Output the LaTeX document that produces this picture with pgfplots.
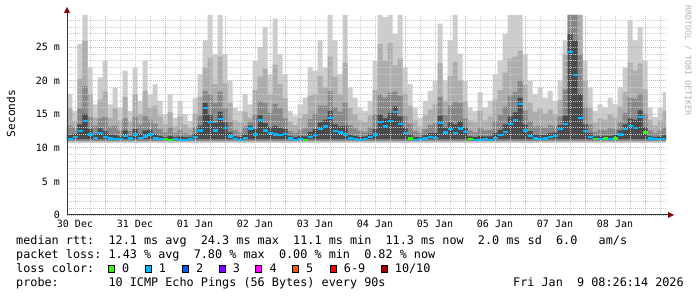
\documentclass[border=0pt]{standalone}
\usepackage{fontspec}
\setmainfont{DejaVu Sans}
\setmonofont{DejaVu Sans Mono}
\usepackage{pgfplots}
\pgfplotsset{compat=1.18}
\usepackage{pgfplotstable}
\definecolor{sone}{HTML}{CDCDCD}
\definecolor{stwo}{HTML}{ADADAD}
\definecolor{sthree}{HTML}{888888}
\definecolor{sfour}{HTML}{4A4A4A}
\definecolor{lzero}{HTML}{26FF00}
\definecolor{lone}{HTML}{00B8FF}
\definecolor{ltwo}{HTML}{0059FF}
\definecolor{lthree}{HTML}{7E00FF}
\definecolor{lfour}{HTML}{FF00FF}
\definecolor{lfive}{HTML}{FF5500}
\definecolor{lsix}{HTML}{FF0000}
\definecolor{lten}{HTML}{A00000}
\definecolor{mgrid}{HTML}{EBA0A0}
\definecolor{ngrid}{HTML}{CBCBCB}
\definecolor{axcol}{HTML}{2C3D33}
\definecolor{arrcol}{HTML}{7F0000}
\pgfplotstableread{
k a b c d
3 10.75 10.9 11.0 11.3
4 17.5 15.0 12.9 11.7
5 18.0 15.9 13.3 11.9
6 15.5 14.0 13.0 12.1
7 25.5 20.3 15.9 13.5
8 29.8 26.0 19.2 15.1
9 22.0 18.0 14.6 12.8
10 16.5 14.5 13.3 12.1
11 20.5 17.2 14.4 12.9
12 23.0 18.4 14.6 12.5
13 16.5 14.5 13.2 12.0
14 19.0 15.9 13.3 11.9
15 16.0 14.1 12.6 11.7
16 21.5 17.6 14.4 12.6
17 15.5 13.9 12.5 11.8
18 22.0 18.0 14.6 12.8
19 17.0 15.0 13.5 12.1
20 23.0 18.5 14.7 12.6
21 18.0 16.0 14.2 12.7
22 19.5 16.3 13.6 12.0
23 17.0 14.7 12.8 11.8
24 15.0 13.5 12.3 11.6
25 18.0 15.3 13.0 11.8
26 14.5 13.2 12.2 11.6
27 17.0 14.7 12.7 11.7
28 15.0 13.5 12.2 11.6
29 14.0 12.9 12.0 11.6
30 17.5 15.1 13.1 12.1
31 21.0 17.6 14.8 13.3
32 26.0 22.0 18.5 16.7
33 29.8 23.4 18.0 15.0
34 24.0 19.5 16.7 13.7
35 29.8 23.6 18.4 15.4
36 24.0 19.6 15.9 13.8
37 20.0 16.7 13.9 12.3
38 16.0 14.1 12.6 11.7
39 15.5 13.8 12.3 11.6
40 18.0 15.4 13.2 12.0
41 16.5 14.5 13.9 13.3
42 23.0 18.6 14.9 12.8
43 25.0 20.6 17.0 14.9
44 28.0 21.8 16.7 13.7
45 21.0 18.0 15.2 13.1
46 29.3 22.4 16.6 13.3
47 24.0 19.5 15.9 13.0
48 21.0 17.4 14.4 12.8
49 15.5 13.9 12.5 11.8
50 14.8 13.4 12.2 11.6
51 16.5 14.4 12.7 11.8
52 17.5 15.0 12.9 11.7
53 22.0 17.8 14.3 12.4
54 21.5 18.0 15.1 12.8
55 26.0 20.7 16.3 13.8
56 22.0 19.0 16.3 14.2
57 29.8 23.6 18.5 15.5
58 26.0 20.6 16.1 13.5
59 21.0 18.0 15.4 13.2
60 29.8 22.7 16.7 13.3
61 19.0 16.0 13.4 12.0
62 17.5 15.0 12.9 11.8
63 16.0 14.1 12.5 11.6
64 15.5 13.8 12.4 11.7
65 17.0 14.8 13.0 12.1
66 23.0 18.6 14.9 12.8
67 29.8 25.5 18.0 15.0
68 29.5 23.0 17.5 14.4
69 29.8 25.6 18.2 15.2
70 27.0 22.3 18.4 16.2
71 29.8 23.3 17.8 14.7
72 22.0 18.1 14.8 13.0
73 19.5 16.3 13.6 12.0
74 16.0 14.1 12.5 11.6
75 14.5 13.2 12.2 11.6
76 17.0 14.8 12.8 11.9
77 18.5 15.7 13.4 12.2
78 20.0 16.6 13.7 12.2
79 28.5 22.6 17.6 14.8
80 20.0 17.0 14.9 13.0
81 26.0 20.7 16.3 13.8
82 29.8 22.8 16.8 13.5
83 24.0 20.0 16.7 14.0
84 20.0 17.0 14.4 13.0
85 16.0 14.1 12.6 11.7
86 15.5 13.8 12.3 11.6
87 18.3 15.5 13.0 11.8
88 16.0 14.1 12.6 11.7
89 17.0 14.7 12.7 11.7
90 21.0 17.2 14.0 12.2
91 23.0 18.6 14.9 12.7
92 27.0 21.2 16.2 13.5
93 29.8 23.3 17.8 14.7
94 29.8 23.6 18.3 15.3
95 29.8 24.5 20.0 17.5
96 24.0 19.4 15.6 13.5
97 20.0 16.7 14.0 12.5
98 18.0 15.4 13.2 12.0
99 19.0 15.9 13.3 11.9
100 17.5 15.1 13.0 11.9
101 18.5 15.7 13.4 12.2
102 17.0 14.9 13.2 12.3
103 20.0 17.1 14.7 13.4
104 26.0 24.0 18.7 14.8
105 29.8 29.8 29.8 27.0
106 29.8 29.8 29.8 26.0
107 29.8 29.8 24.0 18.0
108 23.0 20.0 16.1 13.5
109 19.0 16.0 13.5 12.2
110 15.5 13.8 12.4 11.7
111 16.5 14.4 12.7 11.8
112 16.0 14.2 12.6 11.8
113 17.5 15.0 12.9 11.8
114 16.5 14.5 12.8 11.9
115 19.0 16.2 13.8 12.6
116 22.0 18.3 15.2 13.5
117 29.0 22.7 17.5 14.4
118 26.0 21.5 17.3 14.2
119 28.0 22.6 18.1 15.6
120 23.0 18.7 15.1 13.1
121 16.0 14.2 12.6 11.8
122 14.6 13.3 12.2 11.6
123 16.0 14.1 12.6 11.7
124 18.3 15.5 13.1 11.9
125 10.75 10.9 11.0 11.3
}\smoke
\pgfplotstableread{
k m
4 11.2
5 11.3
6 11.6
7 12.5
8 14.0
9 12.0
10 11.5
11 12.2
12 11.6
13 11.4
14 11.3
15 11.3
16 11.8
17 11.4
18 12.0
19 11.5
20 11.7
21 12.0
22 11.4
23 11.3
24 11.3
25 11.2
26 11.3
27 11.2
28 11.2
29 11.3
30 11.6
31 12.6
32 15.9
33 13.8
34 12.6
35 14.3
36 13.0
37 11.7
38 11.3
39 11.2
40 11.5
41 12.9
42 12.0
43 14.1
44 12.6
45 12.2
46 12.0
47 11.9
48 12.1
49 11.4
50 11.2
51 11.3
52 11.2
53 11.6
54 11.9
55 12.8
56 13.2
57 14.4
58 12.5
59 12.3
60 12.0
61 11.4
62 11.3
63 11.2
64 11.3
65 11.6
66 12.0
67 13.8
68 13.2
69 14.0
70 15.3
71 13.5
72 12.2
73 11.4
74 11.2
75 11.3
76 11.4
77 11.6
78 11.5
79 13.7
80 12.3
81 12.8
82 12.2
83 12.9
84 12.4
85 11.3
86 11.2
87 11.2
88 11.3
89 11.2
90 11.5
91 11.9
92 12.4
93 13.5
94 14.2
95 16.5
96 12.6
97 11.8
98 11.4
99 11.3
100 11.4
101 11.6
102 11.8
103 12.8
104 13.5
105 24.3
106 20.8
107 14.4
108 12.5
109 11.6
110 11.3
111 11.3
112 11.4
113 11.3
114 11.4
115 12.0
116 12.8
117 13.3
118 13.0
119 14.6
120 12.3
121 11.4
122 11.3
123 11.3
124 11.3
}\med
\pgfplotstableread{
k m
24 11.3
25 11.2
52 11.2
73 11.4
85 11.3
110 11.3
112 11.4
114 11.4
120 12.3
}\medgreen
\pgfplotsset{rrdframe/.style={
  at={(67pt,82pt)}, anchor=south west,
  scale only axis, width=599pt, height=200pt,
  xmin=4.4, xmax=124.2, ymin=0, ymax=29.8}}
\begin{document}
\begin{tikzpicture}
\useasboundingbox (0pt,0pt) rectangle (697pt,297pt);
\begin{axis}[
  rrdframe, axis on top,
  axis line style={draw=none},
  major tick length=0pt, minor tick length=0pt,
  xtick={6,18,...,114},
  xticklabels={30 Dec,31 Dec,01 Jan,02 Jan,03 Jan,04 Jan,05 Jan,06 Jan,07 Jan,08 Jan},
  minor xtick={3,6,9,15,18,21,27,30,33,39,42,45,51,54,57,63,66,69,75,78,81,87,90,93,99,102,105,111,114,117,123},
  extra x ticks={12,24,...,120},
  extra x tick labels={},
  extra x tick style={xmajorgrids=true, xminorgrids=false},
  xmajorgrids=false, xminorgrids=true,
  ymajorgrids=true, yminorgrids=true,
  ytick={0,5,10,15,20,25},
  yticklabels={0,5 m,10 m,15 m,20 m,25 m},
  minor ytick={1,2,3,4,6,7,8,9,11,12,13,14,16,17,18,19,21,22,23,24,26,27,28,29},
  major grid style={color=mgrid, dash pattern=on 1pt off 1pt, line width=0.8pt},
  minor grid style={color=ngrid, dash pattern=on 1pt off 1pt, line width=0.8pt},
  xticklabel style={font=\fontsize{10}{12}\ttfamily, yshift=-1.7pt},
  yticklabel style={font=\fontsize{10}{12}\ttfamily, xshift=-3.5pt},
  tick label style={color=black},
]
\addplot[const plot mark mid, fill=sone, draw=none] table[x=k, y=a] {\smoke} -- cycle;
\addplot[const plot mark mid, fill=stwo, draw=none] table[x=k, y=b] {\smoke} -- cycle;
\addplot[const plot mark mid, fill=sthree, draw=none] table[x=k, y=c] {\smoke} -- cycle;
\addplot[const plot mark mid, fill=sfour, draw=none] table[x=k, y=d] {\smoke} -- cycle;
\end{axis}
\begin{axis}[rrdframe, hide axis]
\addplot[jump mark mid, no marks, color=lone, line width=2.2pt] table[x=k, y=m] {\med};
\addplot[only marks, mark=-, mark size=2.5pt, color=lzero, mark options={solid, line width=2.2pt, draw=lzero}] table[x=k, y=m] {\medgreen};
\end{axis}
% axis lines and arrows
\draw[axcol, line width=1pt] (67pt,82pt) -- (67pt,286pt);
\draw[axcol, line width=1pt] (66.5pt,82pt) -- (669pt,82pt);
\fill[arrcol] (64pt,284pt) -- (70pt,284pt) -- (67pt,290pt) -- cycle;
\fill[arrcol] (668pt,79pt) -- (668pt,85pt) -- (674pt,82pt) -- cycle;
% y label and watermark
\node[rotate=90, font=\fontsize{11.2}{13}\ttfamily] at (11pt,183.5pt) {Seconds};
\node[rotate=-90, anchor=west, font=\fontsize{8.3}{10}\ttfamily, text=black!30, inner sep=0pt] at (688pt,292pt) {RRDTOOL / TOBI OETIKER};
% legend
\begin{scope}[every node/.style={anchor=base west, inner sep=0pt, font=\fontsize{11.8}{14}\ttfamily}]
\node at (16pt,52.5pt) {median~rtt:~~12.1~ms~avg~~24.3~ms~max~~11.1~ms~min~~11.3~ms~now~~2.0~ms~sd~~6.0~~~am/s};
\node at (16pt,38.3pt) {packet~loss:~1.43~\%~avg~~7.80~\%~max~~0.00~\%~min~~0.82~\%~now};
\node at (16pt,24.3pt) {loss~color:};
\node at (16pt,10pt) {probe:~~~~~~~10~ICMP~Echo~Pings~(56~Bytes)~every~90s};
\node at (513pt,10pt) {Fri~Jan~~9~08:26:14~2026};
\foreach \xb/\col/\lab in {108.3/lzero/0, 145/lone/1, 182.3/ltwo/2, 219/lthree/3, 255.7/lfour/4, 292.3/lfive/5, 330/lsix/6-9, 381/lten/10\slash 10} {
  \filldraw[fill=\col, draw=black, line width=0.8pt] (\xb pt,24.8pt) rectangle ++(6pt,6.6pt);
  \node at (\xb pt+13.7pt,24.3pt) {\lab};
}
\end{scope}
\end{tikzpicture}
\end{document}
